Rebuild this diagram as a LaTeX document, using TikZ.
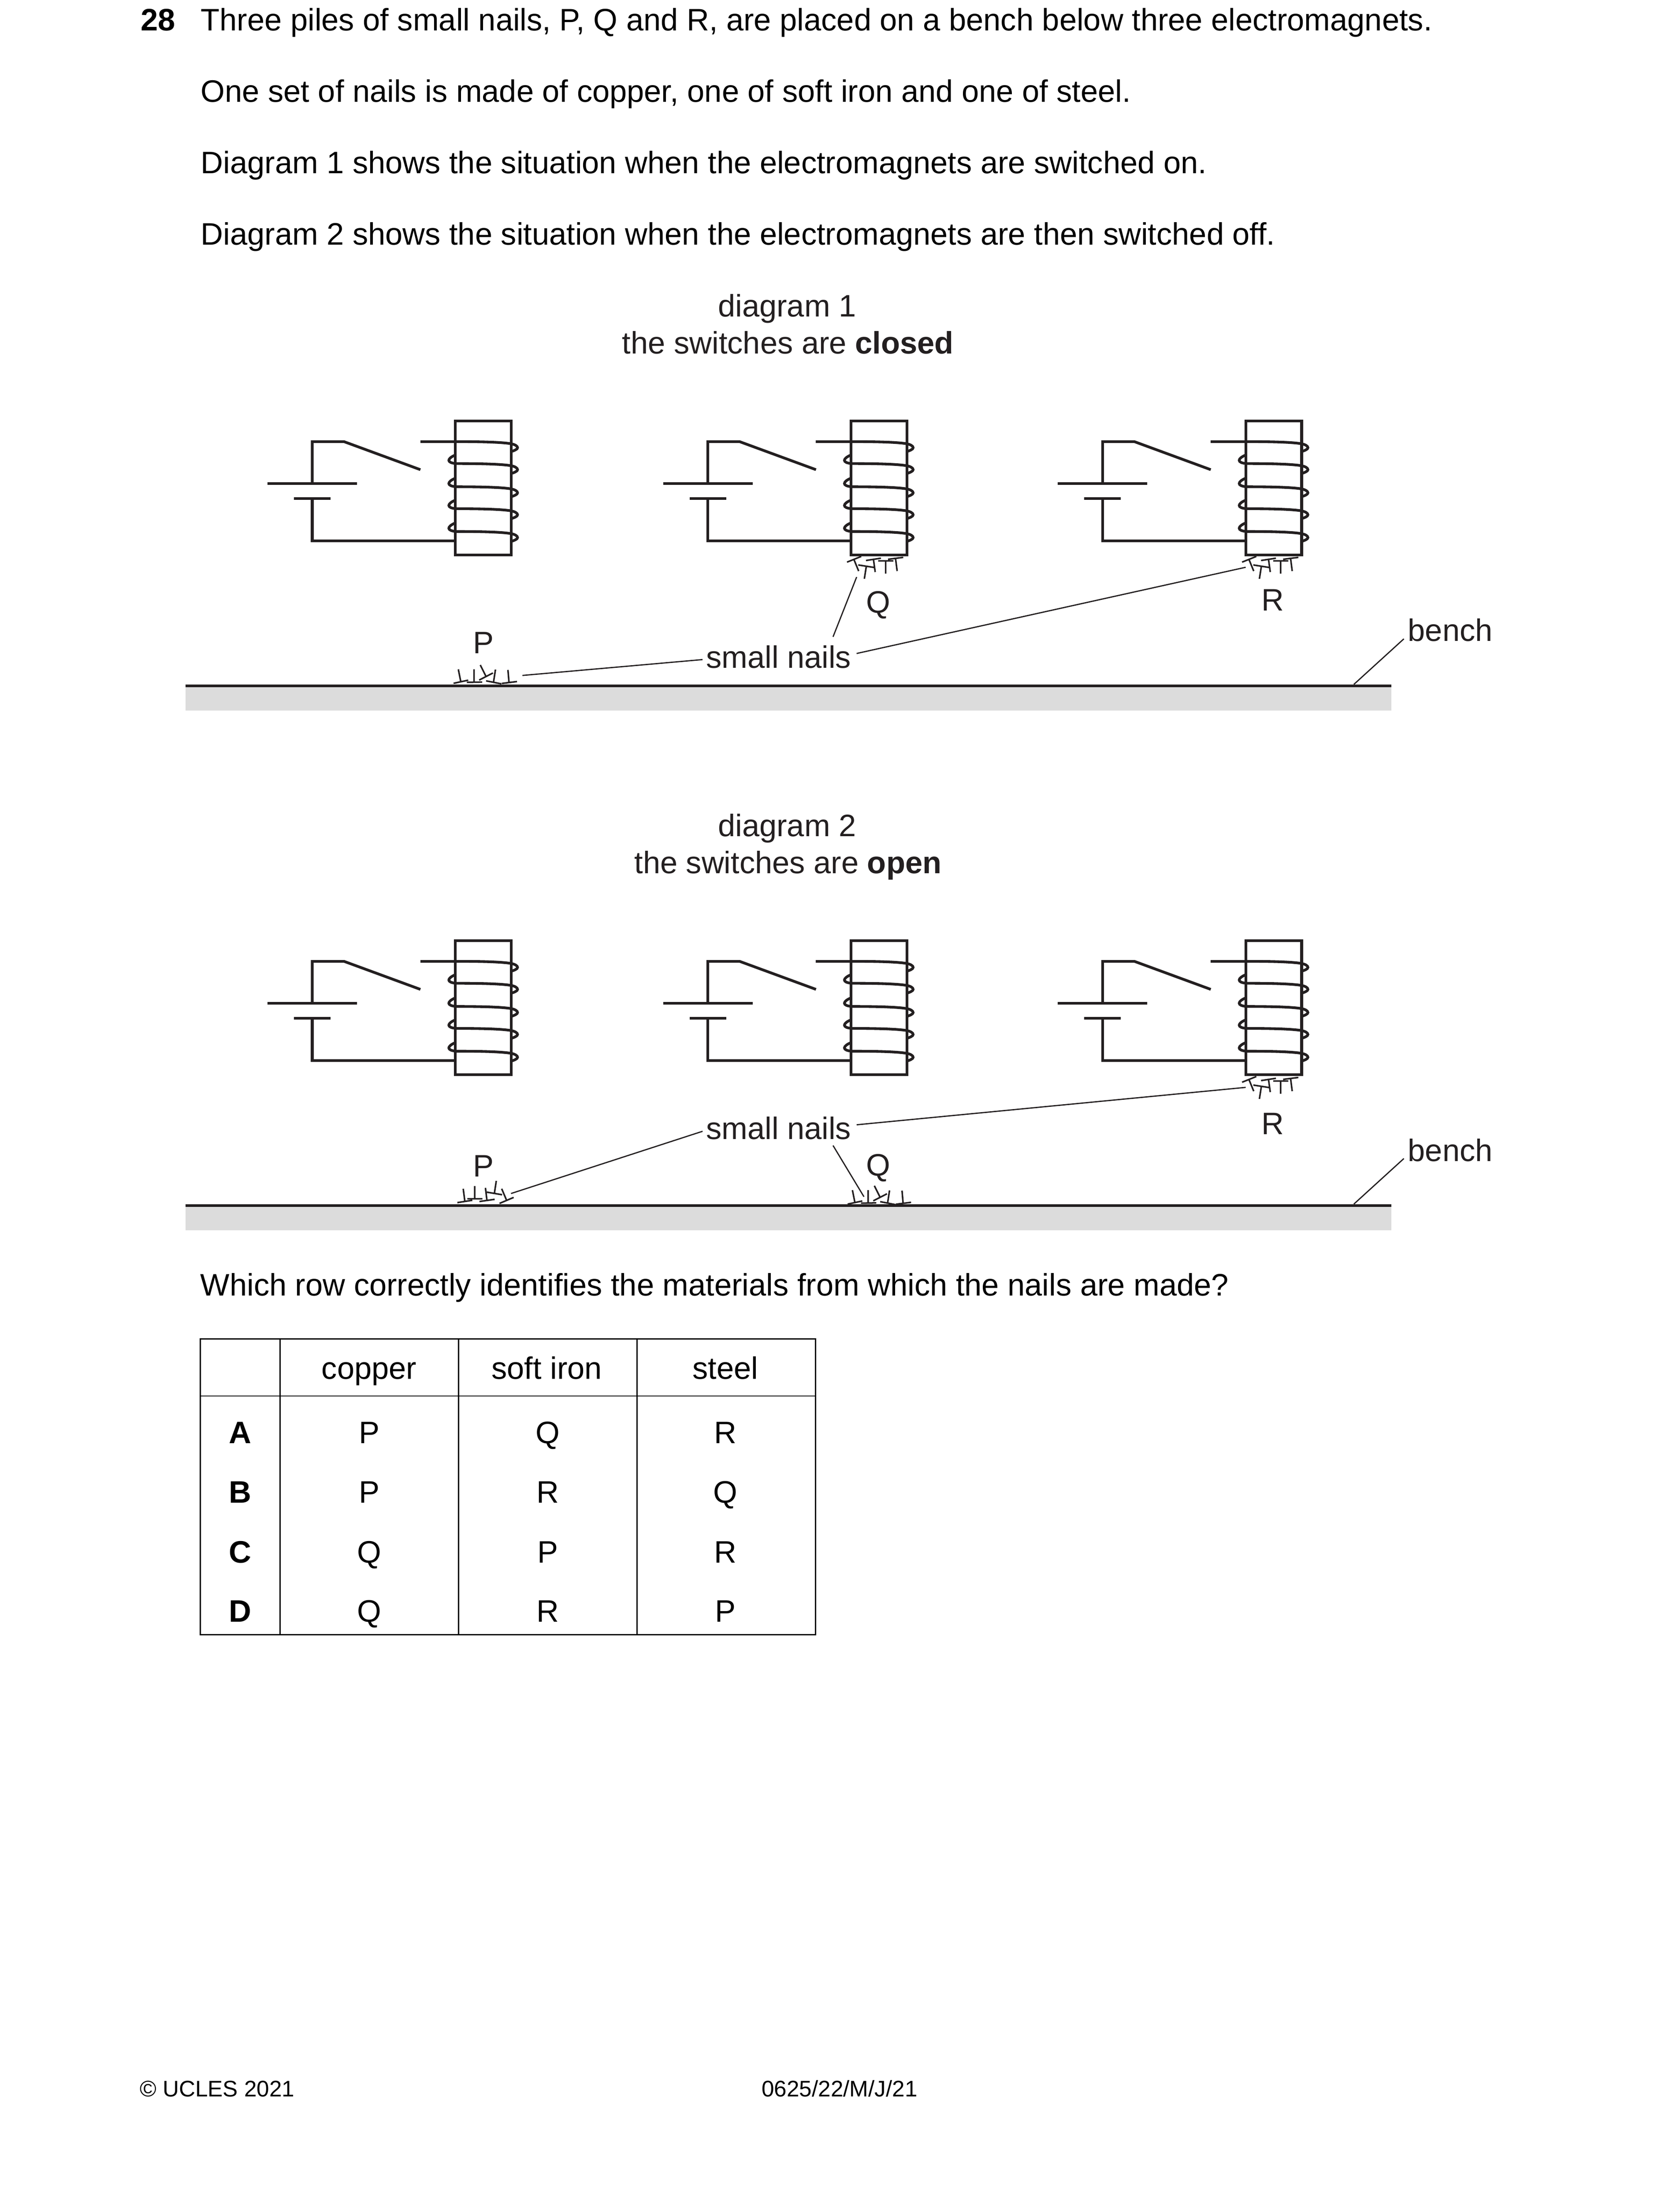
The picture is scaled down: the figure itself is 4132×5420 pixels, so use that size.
\documentclass[tikz,border=0pt]{standalone}
\usepackage{fontspec}
\setmainfont{Liberation Sans}
\definecolor{ink}{HTML}{231F20}
\definecolor{benchgrey}{HTML}{DCDCDC}
\tikzset{
  wire/.style={draw=ink,line width=0.96pt},
  coil/.style={draw=ink,line width=0.95pt},
  leader/.style={draw=ink,line width=0.43pt},
  nail/.style={draw=ink,line width=0.55pt},
  benchline/.style={draw=ink,line width=0.96pt},
  tabline/.style={draw=black,line width=0.45pt},
  zc/.style={x=0.04802pt,y=-0.04802pt},
  txt/.style={inner sep=0pt,outer sep=0pt,font=\fontsize{11}{13}\selectfont},
  ltxt/.style={txt,anchor=base west},
  ctxt/.style={txt,anchor=base},
  dtxt/.style={ctxt,text=ink},
  ftxt/.style={inner sep=0pt,outer sep=0pt,font=\fontsize{8}{10}\selectfont}
}
% piles, in 3x crop coordinates
\newcommand{\pileA}{%
  \draw[nail] (197,361)--(305,338) (232,258)--(250,348)
    (295,354)--(408,352) (348,258)--(348,352)
    (386,337)--(487,285) (394,226)--(436,310)
    (437,343)--(550,365) (506,260)--(492,350)
    (553,362)--(665,348) (598,262)--(606,355);}
\newcommand{\pileB}{%
  \draw[nail] (250,247)--(355,205) (300,225)--(336,313)
    (333,268)--(448,286) (392,280)--(378,370)
    (390,235)--(500,218) (445,226)--(458,320)
    (480,238)--(592,238) (535,238)--(535,332)
    (553,226)--(665,212) (608,220)--(620,313);}
\newcommand{\pileC}{%
  \draw[nail] (225,322)--(335,305) (268,220)--(280,312)
    (298,294)--(410,294) (353,200)--(353,294)
    (388,314)--(500,298) (432,213)--(443,305)
    (442,245)--(555,264) (512,162)--(498,254)
    (536,328)--(640,284) (552,220)--(588,305);}
\begin{document}
\begin{tikzpicture}[x=0.14406pt,y=-0.14406pt]
\useasboundingbox (0,0) rectangle (4132,5420);
\fill[white] (0,0) rectangle (4132,5420);
% question text
\node[ltxt,font=\fontsize{11}{13}\selectfont\bfseries] (qnum) at (346,75) {28};
\node[ltxt] (l1) at (494,75) {Three piles of small nails, P, Q and R, are placed on a bench below three electromagnets.};
\node[ltxt] (l2) at (494,251) {One set of nails is made of copper, one of soft iron and one of steel.};
\node[ltxt] (l3) at (494,426.5) {Diagram 1 shows the situation when the electromagnets are switched on.};
\node[ltxt] (l4) at (494,602) {Diagram 2 shows the situation when the electromagnets are then switched off.};
% titles
\node[dtxt] (t1a) at (1936,779) {diagram 1};
\node[dtxt] (t1b) at (1938,870) {the switches are \textbf{closed}};
\node[dtxt] (t2a) at (1936,2057) {diagram 2};
\node[dtxt] (t2b) at (1938,2148) {the switches are \textbf{open}};
% benches
\foreach \dy in {0,1278}{
  \begin{scope}[shift={(0,\dy)}]
    \fill[benchgrey] (456,1686) rectangle (3422,1747);
    \draw[benchline] (456,1686.5) -- (3422,1686.5);
  \end{scope}
}
% circuits
\foreach \dy in {0,1278}{
  \foreach \dx in {0,973,1944}{
    \begin{scope}[shift={(\dx,\dy)}]
      \draw[wire] (658,1189) -- (878,1189);
      \draw[wire] (723,1226) -- (813,1226);
      \draw[wire] (768,1189) -- (768,1086) -- (846,1086) -- (1034,1155);
      \draw[wire] (768,1226) -- (768,1330) -- (1120,1330);
      \draw[wire] (1034,1086) -- (1120,1086);
      \foreach \t in {1086,1140,1197,1251,1307}{
        \draw[coil] (1120,\t) .. controls (1180,\t) and (1230,\t+1) .. (1256,\t+5)
          .. controls (1267,\t+7) and (1273,\t+11) .. (1273,\t+15)
          .. controls (1273,\t+19) and (1265,\t+22) .. (1256,\t+25);
      }
      \foreach \t in {1140,1197,1251,1307}{
        \draw[coil] (1120,\t-21) .. controls (1110,\t-17) and (1104,\t-12) .. (1104,\t-8)
          .. controls (1104,\t-4) and (1110,\t-1) .. (1122,\t);
      }
      \draw[wire] (1120,1035) rectangle (1257.5,1365);
    \end{scope}
  }
}
% nails
\begin{scope}[shift={(1050,1560)}]\begin{scope}[zc]\pileA\end{scope}\end{scope}
\begin{scope}[shift={(2019.3,2840.7)}]\begin{scope}[zc]\pileA\end{scope}\end{scope}
\begin{scope}[shift={(1050,2850)}]\begin{scope}[zc]\pileC\end{scope}\end{scope}
\begin{scope}[shift={(2000,1300)}]\begin{scope}[zc]\pileB\end{scope}\end{scope}
\begin{scope}[shift={(2971.7,1300)}]\begin{scope}[zc]\pileB\end{scope}\end{scope}
\begin{scope}[shift={(2971.7,2579)}]\begin{scope}[zc]\pileB\end{scope}\end{scope}
% diagram 1 labels
\node[dtxt] (p1) at (1189,1606.5) {P};
\node[dtxt] (q1) at (2160,1507) {Q};
\node[dtxt] (r1) at (3131,1502) {R};
\node[ltxt,text=ink] (sn1) at (1737,1643) {small nails};
\node[ltxt,text=ink] (be1) at (3463,1577) {bench};
% diagram 2 labels
\node[dtxt] (p2) at (1189,2894) {P};
\node[dtxt] (q2) at (2160,2892) {Q};
\node[dtxt] (r2) at (3131,2790) {R};
\node[ltxt,text=ink] (sn2) at (1737,2802) {small nails};
\node[ltxt,text=ink] (be2) at (3463,2856) {bench};
% leaders, diagram 1
\coordinate (a1) at (1728,1622); \coordinate (a2) at (1285,1661);
\coordinate (b1) at (2049,1566); \coordinate (b2) at (2107,1419);
\coordinate (c1) at (2107,1607); \coordinate (c2) at (3064,1395);
\coordinate (d1) at (3453,1571); \coordinate (d2) at (3330,1683);
\draw[leader] (a1)--(a2); \draw[leader] (b1)--(b2); \draw[leader] (c1)--(c2); \draw[leader] (d1)--(d2);
% leaders, diagram 2
\coordinate (e1) at (1728,2782); \coordinate (e2) at (1257,2935);
\coordinate (f1) at (2049,2817); \coordinate (f2) at (2125,2943);
\coordinate (g1) at (2107,2766); \coordinate (g2) at (3064,2674);
\coordinate (h1) at (3453,2849); \coordinate (h2) at (3330,2961);
\draw[leader] (e1)--(e2); \draw[leader] (f1)--(f2); \draw[leader] (g1)--(g2); \draw[leader] (h1)--(h2);
% question and table
\node[ltxt] (which) at (493,3186) {Which row correctly identifies the materials from which the nails are made?};
\draw[tabline] (493,3293) rectangle (2006,4020);
\draw[tabline] (493,3433) -- (2006,3433);
\draw[tabline] (689,3293) -- (689,4020);
\draw[tabline] (1128,3293) -- (1128,4020);
\draw[tabline] (1567,3293) -- (1567,4020);
\node[ctxt] (hc) at (908,3391) {copper};
\node[ctxt] (hs) at (1345,3391) {soft iron};
\node[ctxt] (ht) at (1784,3391) {steel};
\foreach \yy/\l/\a/\b/\c in {3550/A/P/Q/R,3696/B/P/R/Q,3843/C/Q/P/R,3988/D/Q/R/P}{
  \node[ctxt,font=\fontsize{11}{13}\selectfont\bfseries] (row\l) at (591,\yy) {\l};
  \node[ctxt] (row\l a) at (908,\yy) {\a};
  \node[ctxt] (row\l b) at (1347,\yy) {\b};
  \node[ctxt] (row\l c) at (1784,\yy) {\c};
}
% footer
\node[ftxt,anchor=base west] (foot1) at (344,5156) {© UCLES 2021};
\node[ftxt,anchor=base] (foot2) at (2065,5156) {0625/22/M/J/21};
\end{tikzpicture}
\end{document}
